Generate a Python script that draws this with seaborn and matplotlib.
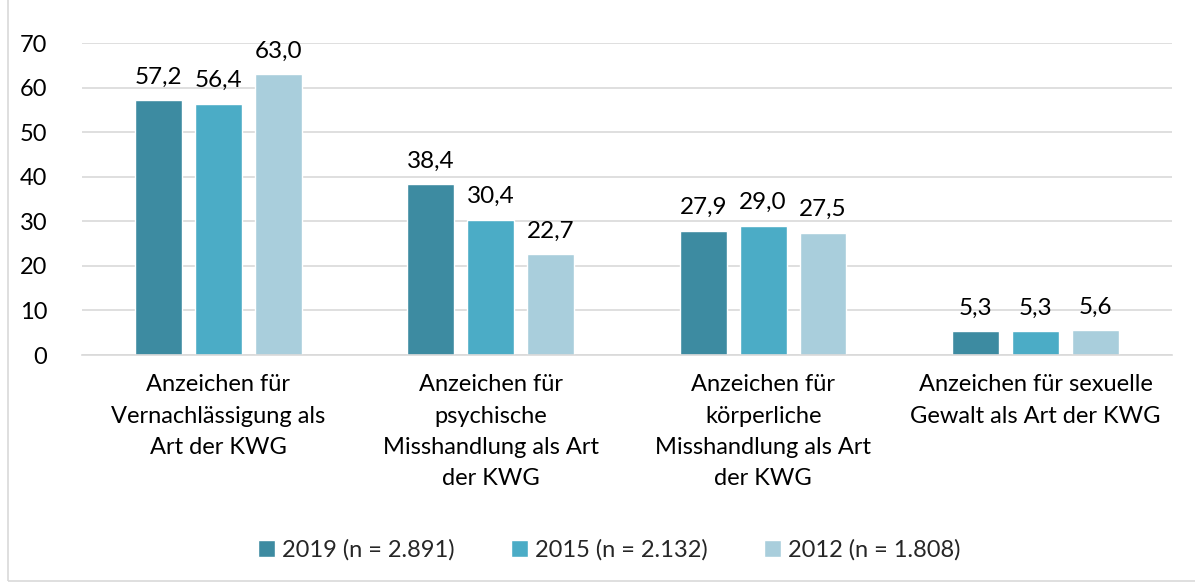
import matplotlib
matplotlib.use("Agg")
import matplotlib.pyplot as plt
from matplotlib.patches import Rectangle
import pandas as pd
import seaborn as sns

categories = [
    "Anzeichen für\nVernachlässigung als\nArt der KWG",
    "Anzeichen für\npsychische\nMisshandlung als Art\nder KWG",
    "Anzeichen für\nkörperliche\nMisshandlung als Art\nder KWG",
    "Anzeichen für sexuelle\nGewalt als Art der KWG",
]
series = ["2019 (n = 2.891)", "2015 (n = 2.132)", "2012 (n = 1.808)"]
values_2019 = [57.2, 38.4, 27.9, 5.3]
values_2015 = [56.4, 30.4, 29.0, 5.3]
values_2012 = [63.0, 22.7, 27.5, 5.6]
colors = ["#3D8BA1", "#4BACC6", "#A9CEDC"]

df = pd.DataFrame({
    "cat": categories * 3,
    "series": [s for s in series for _ in categories],
    "value": values_2019 + values_2015 + values_2012,
})

sns.set_style("white")
plt.rcParams["font.family"] = ["Lato", "DejaVu Sans"]
fs = 17

fig = plt.figure(figsize=(11.95, 5.83), dpi=100)
ax = fig.add_axes([0.0686, 0.391, 0.912, 0.535])

sns.barplot(data=df, x="cat", y="value", hue="series", order=categories,
            hue_order=series, palette=colors, width=0.66, gap=0.22,
            saturation=1, ax=ax, legend=True)

for cont in ax.containers:
    ax.bar_label(cont, labels=[f"{b.get_height():.1f}".replace(".", ",") for b in cont],
                 padding=9, fontsize=fs + 0.5, color="#000000")

ax.set_ylim(0, 70)
ax.set_yticks(range(0, 71, 10))
ax.set_xlim(-0.5, 3.5)
ax.yaxis.grid(True, color="#D9D9D9", linewidth=1.2)
ax.set_axisbelow(True)
for s in ["top", "right", "left"]:
    ax.spines[s].set_visible(False)
ax.spines["bottom"].set_color("#D9D9D9")
ax.spines["bottom"].set_linewidth(1.2)
ax.tick_params(axis="both", length=0, labelsize=fs, colors="#000000")
ax.tick_params(axis="y", pad=25)
ax.tick_params(axis="x", pad=14)
ax.set_xlabel("")
ax.set_ylabel("")
for lab in ax.get_xticklabels():
    lab.set_linespacing(1.6)

handles, labels = ax.get_legend_handles_labels()
ax.legend(handles, labels, loc="center", bbox_to_anchor=(0.51, 0.057),
          bbox_transform=fig.transFigure, ncol=3, frameon=False,
          fontsize=fs, handlelength=0.7, handleheight=0.7, handletextpad=0.3,
          columnspacing=2.4)

fig.patches.append(Rectangle((0.007, 0.004), 1.2, 1.2, transform=fig.transFigure,
                             fill=False, edgecolor="#D9D9D9", linewidth=1.2,
                             figure=fig))

fig.savefig("out.png", dpi=100)
